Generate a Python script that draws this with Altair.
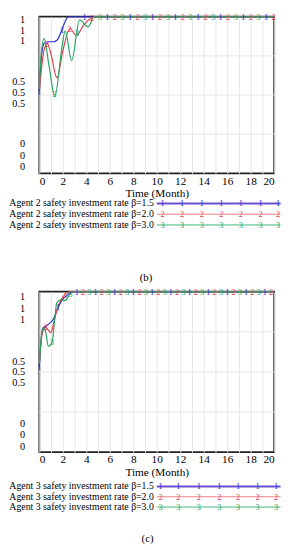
import altair as alt
import pandas as pd
import numpy as np

F = "Liberation Serif"

series_names = ["β=1.5", "β=2.0", "β=3.0"]
marker_digits = ["1", "2", "3"]
line_colors = ["#2b2bcf", "#e0404c", "#27a45f"]
legend_colors = ["#6a4fd0", "#ee7b84", "#3cb878"]
legend_widths = [2.0, 1.0, 1.0]

x_ticks = list(range(0, 21))
y_label_texts = ["1", "1", "1", "0.5", "0.5", "0.5", "0", "0", "0"]
grid_y = [0.25, 0.5, 0.75]

# panel (b): Agent 2
b_blue_t = [0, 0.15, 0.41, 0.8, 1.2, 1.5, 1.92, 2.2, 2.47, 20]
b_blue_v = [0.52, 0.72, 0.83, 0.84, 0.84, 0.85, 0.915, 0.97, 1.0, 1.0]
b_red_t = [0, 0.2, 0.45, 0.68, 1.0, 1.5, 2.0, 2.6, 3.16, 3.8, 4.4, 4.8, 20]
b_red_v = [0.52, 0.68, 0.8, 0.83, 0.76, 0.61, 0.78, 0.925, 0.88, 0.95, 0.99, 1.0, 1.0]
b_green_t = [0, 0.15, 0.41, 0.82, 1.32, 1.92, 2.2, 2.75, 3.43, 4.17, 4.67, 20]
b_green_v = [0.52, 0.75, 0.86, 0.69, 0.49, 0.8, 0.91, 0.72, 0.98, 0.935, 1.0, 1.0]
b_ylabel_pos = [0.985, 0.914, 0.845, 0.589, 0.514, 0.445, 0.189, 0.114, 0.045]

# panel (c): Agent 3
c_blue_t = [0, 0.28, 0.64, 1.2, 1.62, 1.9, 2.32, 2.8, 20]
c_blue_v = [0.53, 0.77, 0.79, 0.83, 0.905, 0.945, 0.975, 1.0, 1.0]
c_red_t = [0, 0.2, 0.5, 1.0, 1.2, 1.62, 2.2, 2.6, 20]
c_red_v = [0.55, 0.72, 0.78, 0.745, 0.8, 0.915, 0.985, 1.0, 1.0]
c_green_t = [0, 0.15, 0.3, 0.5, 0.78, 1.1, 1.3, 1.48, 1.8, 2.2, 2.6, 3.0, 20]
c_green_v = [0.55, 0.7, 0.775, 0.76, 0.66, 0.69, 0.82, 0.93, 0.95, 0.945, 0.985, 1.0, 1.0]
c_ylabel_pos = [0.970, 0.896, 0.829, 0.567, 0.500, 0.433, 0.177, 0.110, 0.037]

captions = ["(b)", "(c)"]
agents = ["2", "3"]


def y_label_expr(pos):
    parts = []
    for v, lab in zip(pos, y_label_texts):
        parts.append(f"abs(datum.value - {v}) < 0.002 ? '{lab}' : ")
    return "".join(parts) + "''"


def panel(agent, caption, data, ypos, step, width, height, ylab_pad, leg_rows, leg_text_right,
          leg_x0, leg_x1, leg_marks, cap_x, cap_y):
    rows = []
    for i, (ts, vs) in enumerate(data):
        for a, b in zip(ts, vs):
            rows.append({"t": a, "v": b, "s": series_names[i], "o": i})
    df = pd.DataFrame(rows)

    mrows = []
    for i, (ts, vs) in enumerate(data):
        off = i * step / 3.0
        for t in np.arange(off, 20.001, step):
            mrows.append({"t": float(t), "v": float(np.interp(t, ts, vs)),
                          "s": series_names[i], "d": marker_digits[i]})
    mdf = pd.DataFrame(mrows)

    color = alt.Color("s:N", scale=alt.Scale(domain=series_names, range=line_colors), legend=None)
    xscale = alt.Scale(domain=[0, 20], nice=False)
    xaxis = alt.Axis(values=x_ticks,
                     labelExpr="datum.value % 2 == 0 ? datum.label : ''",
                     labelOverlap=False,
                     grid=True, gridColor="#e6e6e6", gridWidth=1,
                     ticks=False, tickSize=0, domain=False, labelPadding=2,
                     labelFont=F, labelFontSize=11.5, labelColor="black",
                     title="Time (Month)", titleFont=F, titleFontSize=11.5,
                     titleFontWeight="normal", titleColor="black", titlePadding=1.5)
    yscale = alt.Scale(domain=[0, 1], nice=False, zero=False)
    yaxis = alt.Axis(values=ypos, labelExpr=y_label_expr(ypos),
                     labelOverlap=False, grid=False, ticks=False, tickSize=0, domain=False,
                     labelPadding=ylab_pad, labelFont=F, labelFontSize=10.5,
                     labelBaseline="middle", labelColor="black", title=None)

    grid = alt.Chart(pd.DataFrame({"g": grid_y})).mark_rule(color="#e6e6e6", strokeWidth=1).encode(
        y=alt.Y("g:Q", scale=yscale, axis=yaxis))

    lines = alt.Chart(df).mark_line(interpolate="monotone", strokeWidth=1.2).encode(
        x=alt.X("t:Q", scale=xscale, axis=xaxis), y=alt.Y("v:Q", scale=yscale, axis=yaxis),
        color=color, order=alt.Order("t:Q"), detail="o:N")

    markers = alt.Chart(mdf).mark_text(font=F, fontSize=8.5, baseline="middle").encode(
        x=alt.X("t:Q", scale=xscale, axis=xaxis), y=alt.Y("v:Q", scale=yscale, axis=yaxis),
        text="d:N", color=color)

    # legend
    lt = pd.DataFrame({
        "lx": [leg_text_right] * 3,
        "ly": leg_rows,
        "label": [f"Agent {agent} safety investment rate {n}" for n in series_names],
    })
    leg_text = alt.Chart(lt).mark_text(align="right", baseline="middle", font=F, fontSize=10,
                                        color="black").encode(
        x=alt.X("lx:Q", scale=None, axis=None), y=alt.Y("ly:Q", scale=None, axis=None), text="label:N")
    ll = pd.DataFrame({"x0": [leg_x0] * 3, "x1": [leg_x1] * 3, "ly": leg_rows,
                       "c": legend_colors, "w": legend_widths})
    leg_lines = alt.Chart(ll).mark_rule().encode(
        x=alt.X("x0:Q", scale=None, axis=None), x2="x1:Q",
        y=alt.Y("ly:Q", scale=None, axis=None),
        color=alt.Color("c:N", scale=None), size=alt.Size("w:Q", scale=None, legend=None))
    lm_rows = []
    for i in range(3):
        for mx in leg_marks:
            lm_rows.append({"mx": mx, "ly": leg_rows[i], "d": marker_digits[i], "c": line_colors[i]})
    leg_marks_chart = alt.Chart(pd.DataFrame(lm_rows)).mark_text(font=F, fontSize=8.5,
                                                                  baseline="middle").encode(
        x=alt.X("mx:Q", scale=None, axis=None), y=alt.Y("ly:Q", scale=None, axis=None),
        text="d:N", color=alt.Color("c:N", scale=None))
    cap = alt.Chart(pd.DataFrame({"cx": [cap_x], "cy": [cap_y], "label": [caption]})).mark_text(
        font=F, fontSize=11, color="black", baseline="middle").encode(
        x=alt.X("cx:Q", scale=None, axis=None), y=alt.Y("cy:Q", scale=None, axis=None), text="label:N")

    return alt.layer(grid, lines, markers, leg_lines, leg_marks_chart, leg_text, cap).properties(
        width=width, height=height)


p1 = panel(agents[0], captions[0],
           [(b_blue_t, b_blue_v), (b_red_t, b_red_v), (b_green_t, b_green_v)], b_ylabel_pos,
           1.93, 240, 160, 15, [190.75, 201.75, 212.75], 117, 120, 246.5,
           [126, 146, 166, 186, 206, 226, 244], 109, 266.75)
p2 = panel(agents[1], captions[1],
           [(c_blue_t, c_blue_v), (c_red_t, c_red_v), (c_green_t, c_green_v)], c_ylabel_pos,
           1.6, 240, 164, 15, [199, 209.5, 220], 117, 120, 246.5,
           [124, 142, 163, 184, 203, 223, 242], 110.6, 253)

chart = alt.vconcat(p1, p2, spacing=3).properties(
    padding={"left": 0, "top": -2, "right": 0, "bottom": 0}
).configure_view(stroke="#222", strokeWidth=1.8)

chart.save("out.html", embed_options={"renderer": "svg", "actions": False})
